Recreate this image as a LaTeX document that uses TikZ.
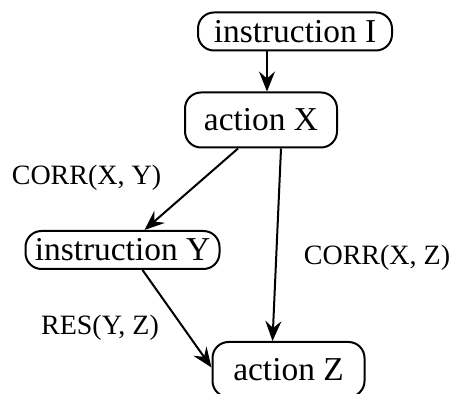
\documentclass[tikz,border=0pt]{standalone}
\usepackage{fontspec}
\setmainfont{Liberation Serif}
\usetikzlibrary{arrows.meta}
\tikzset{
>={Stealth[length=10pt,width=8pt,inset=3.5pt]},
  instrnode/.style={
    rectangle,
    rounded corners=8pt,
    draw=black, line width=1pt,
    minimum width=97pt,
    minimum height=19pt,
    inner sep=0pt,
    font=\fontsize{16.7}{20}\selectfont},
  actionnode/.style={
    rectangle,
    rounded corners=8pt,
    draw=black, line width=1pt,
    minimum width=76pt,
    minimum height=27.5pt,
    inner sep=0pt,
    font=\fontsize{16.7}{20}\selectfont},
  edgelabel/.style={anchor=base, inner sep=0pt, font=\fontsize{14}{17}\selectfont},
  line/.style={draw, line width=1pt, ->}
}
\begin{document}
\begin{tikzpicture}[x=0.5pt,y=-0.5pt]
  \useasboundingbox (0,0) rectangle (454,394);
  \node[instrnode] (InstrI) at (295,31.5) {instruction I};
  \node[actionnode] (ActX) at (261,120) {action X};
  \node[instrnode] (InstrY) at (122.5,250) {instruction Y};
  \node[actionnode] (ActZ) at (288.5,369.5) {action Z};

  \path[line] ([xshift=-14pt]InstrI.south) -- ([xshift=3pt]ActX.north);
  \path[line] ([xshift=-11.5pt]ActX.south) -- ([xshift=11pt]InstrY.north);
  \path[line] ([xshift=10pt]ActX.south) -- ([xshift=-8pt]ActZ.north);
  \path[line] ([xshift=10pt]InstrY.south) -- ([yshift=1pt]ActZ.west);

  \node[edgelabel] (LblXY) at (86.5,185) {CORR(X, Y)};
  \node[edgelabel] (LblXZ) at (377,265) {CORR(X, Z)};
  \node[edgelabel] (LblYZ) at (100,335) {RES(Y, Z)};
\end{tikzpicture}
\end{document}
